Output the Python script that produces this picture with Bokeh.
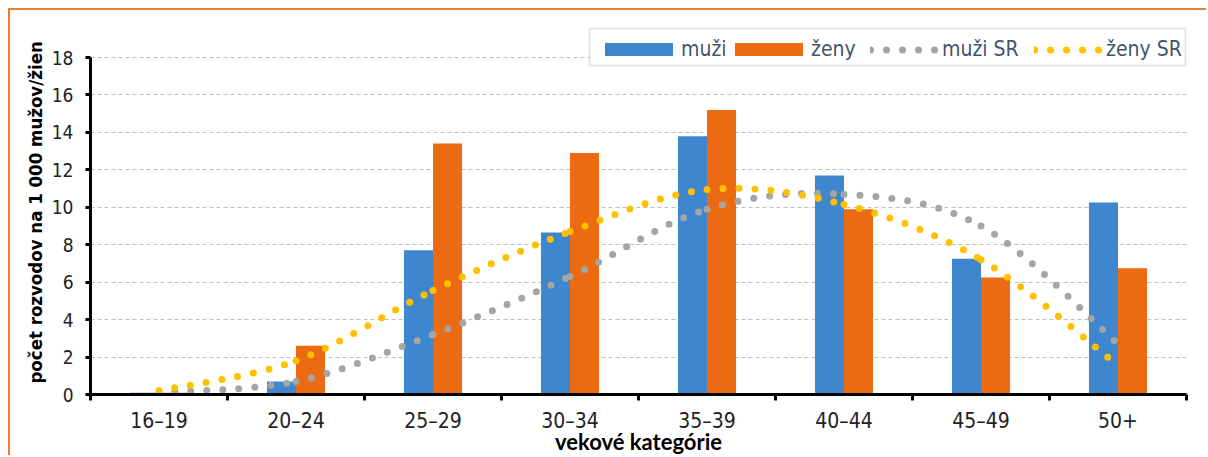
from bokeh.plotting import figure
from bokeh.models import (Range1d, FixedTicker, Legend, LegendItem, ColumnDataSource,
                          BoxAnnotation)
from bokeh.embed import file_html
from bokeh.resources import INLINE

# ---- data ----
categories = ["16–19", "20–24", "25–29", "30–34", "35–39", "40–44", "45–49", "50+"]
muzi = [0.1, 0.7, 7.7, 8.65, 13.8, 11.7, 7.25, 10.25]
zeny = [0.1, 2.6, 13.4, 12.9, 15.2, 9.9, 6.25, 6.75]
muzi_sr = [0.1, 0.7, 3.2, 6.3, 9.9, 10.7, 9.0, 2.7]
zeny_sr = [0.2, 1.8, 5.55, 8.7, 10.95, 10.15, 7.2, 1.55]
y_ticks = [0, 2, 4, 6, 8, 10, 12, 14, 16, 18]
x_title = "vekové kategórie"
y_title = "počet rozvodov na  1 000 mužov/žien"
legend_labels = ["muži", "ženy", "muži SR", "ženy SR"]

NARROW = "'Liberation Sans Narrow', 'DejaVu Sans Condensed', sans-serif"
BOLDF = "Lato, 'Liberation Sans', sans-serif"

n = len(categories)
centers = [i + 0.5 for i in range(n)]
bw = 0.212
y_max = 18
y_top = y_max * 370 / 337  # extra room above the 18 gridline for the legend

p = figure(width=1198, height=447, output_backend="svg", toolbar_location=None,
           x_range=Range1d(0, n), y_range=Range1d(0, y_top),
           min_border_left=80, min_border_right=22, min_border_top=14, min_border_bottom=63)
p.styles = {"border-left": "2px solid #ED7D31", "border-top": "2px solid #ED7D31",
            "margin-left": "8px", "margin-top": "8px"}
p.outline_line_color = None
p.background_fill_color = "white"
p.border_fill_color = "white"

src = ColumnDataSource(dict(xm=[c - bw / 2 for c in centers], xz=[c + bw / 2 for c in centers],
                            muzi=muzi, zeny=zeny))
r_m = p.vbar(x="xm", top="muzi", bottom=0, width=bw, source=src,
             fill_color="#3E86CD", line_color=None)
r_z = p.vbar(x="xz", top="zeny", bottom=0, width=bw, source=src,
             fill_color="#EC6A12", line_color=None)


def bez(ys):
    xs = centers
    pts = list(zip(xs, ys))
    m = len(pts)
    d = dict(x0=[], y0=[], x1=[], y1=[], cx0=[], cy0=[], cx1=[], cy1=[])
    for i in range(m - 1):
        p0 = pts[max(i - 1, 0)]
        p1 = pts[i]
        p2 = pts[i + 1]
        p3 = pts[min(i + 2, m - 1)]
        d["x0"].append(p1[0]); d["y0"].append(p1[1])
        d["x1"].append(p2[0]); d["y1"].append(p2[1])
        d["cx0"].append(p1[0] + (p2[0] - p0[0]) / 6); d["cy0"].append(p1[1] + (p2[1] - p0[1]) / 6)
        d["cx1"].append(p2[0] - (p3[0] - p1[0]) / 6); d["cy1"].append(p2[1] - (p3[1] - p1[1]) / 6)
    return ColumnDataSource(d)


r_msr = p.bezier(x0="x0", y0="y0", x1="x1", y1="y1", cx0="cx0", cy0="cy0", cx1="cx1", cy1="cy1",
                 source=bez(muzi_sr), line_color="#A5A5A5", line_width=7,
                 line_dash="0 16", line_cap="round")
r_zsr = p.bezier(x0="x0", y0="y0", x1="x1", y1="y1", cx0="cx0", cy0="cy0", cx1="cx1", cy1="cy1",
                 source=bez(zeny_sr), line_color="#FFC000", line_width=7,
                 line_dash="0 16", line_cap="round")

# axes
xa = p.xaxis[0]
xa.ticker = FixedTicker(ticks=centers, minor_ticks=list(range(n + 1)))
xa.major_label_overrides = {c: lab for c, lab in zip(centers, categories)}
xa.major_tick_line_color = None
xa.major_tick_out = 6
xa.major_tick_in = 0
xa.minor_tick_out = 6
xa.minor_tick_in = 0
xa.minor_tick_line_width = 3
xa.minor_tick_line_color = "black"
xa.axis_line_width = 3
xa.axis_line_color = "black"
xa.major_label_text_font = NARROW
xa.major_label_text_font_size = "21px"
xa.major_label_text_color = "#222222"
xa.major_label_standoff = 8
xa.axis_label = x_title
xa.axis_label_text_font = BOLDF
xa.axis_label_text_font_style = "bold"
xa.axis_label_text_font_size = "22px"
xa.axis_label_text_color = "black"
xa.axis_label_standoff = -8

ya = p.yaxis[0]
ya.ticker = FixedTicker(ticks=y_ticks)
ya.bounds = (0, y_max)
ya.minor_tick_line_color = None
ya.major_tick_out = 5
ya.major_tick_in = 0
ya.major_tick_line_width = 3
ya.major_tick_line_color = "black"
ya.axis_line_width = 3
ya.axis_line_color = "black"
ya.major_label_text_font = NARROW
ya.major_label_text_font_size = "19px"
ya.major_label_text_color = "#222222"
ya.major_label_standoff = 12
ya.axis_label = y_title
ya.axis_label_text_font = NARROW
ya.axis_label_text_font_style = "bold"
ya.axis_label_text_font_size = "18.5px"
ya.axis_label_text_color = "black"
ya.axis_label_standoff = 3

p.xgrid.grid_line_color = None
p.ygrid.ticker = FixedTicker(ticks=y_ticks)
p.ygrid.grid_line_color = "#BFBFBF"
p.ygrid.grid_line_dash = "4 3"
p.ygrid.grid_line_width = 1

# legend frame (screen units, relative to the plot frame)
box = BoxAnnotation(left=499, right=1095, bottom=329, top=366,
                    left_units="screen", right_units="screen",
                    bottom_units="screen", top_units="screen",
                    fill_color="white", fill_alpha=1,
                    line_color="#A6A6A6", line_width=2)
p.add_layout(box)

# one legend per entry, so the spacing follows the text widths
# (label, renderer, x offset, glyph width, glyph height, label standoff)
entries = [(legend_labels[0], r_m, 506, 85, 16, 0),
           (legend_labels[1], r_z, 636, 85, 16, 0),
           (legend_labels[2], r_msr, 780, 68, 13, 4),
           (legend_labels[3], r_zsr, 944, 68, 13, 4)]
for lab, rend, lx, gw, gh, stand in entries:
    lg = Legend(items=[LegendItem(label=lab, renderers=[rend])],
                orientation="horizontal", location=(lx, 333))
    lg.glyph_width = gw
    lg.glyph_height = gh
    lg.label_text_font = NARROW
    lg.label_text_font_size = "21px"
    lg.label_text_color = "#44546A"
    lg.label_standoff = stand
    lg.label_height = 20
    lg.spacing = 0
    lg.padding = 0
    lg.margin = 0
    lg.border_line_color = None
    lg.background_fill_alpha = 0
    p.add_layout(lg, "center")

open("out.html", "w").write(file_html(p, INLINE))
